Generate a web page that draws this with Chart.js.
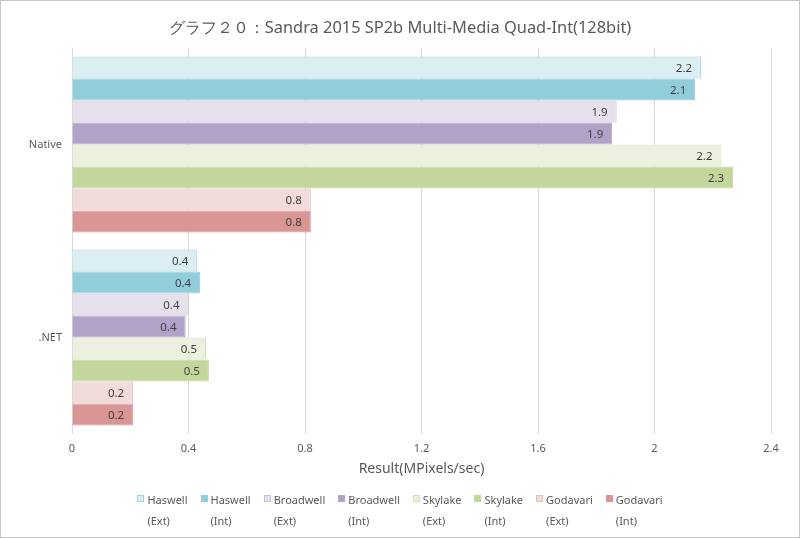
<!DOCTYPE html>
<html>
<head>
<meta charset="utf-8">
<script src="https://cdn.jsdelivr.net/npm/chart.js@4"></script>
<style>
  html, body { margin: 0; padding: 0; background: #fff; }
  #wrap { position: relative; width: 800px; height: 538px; }
  #frame { position: absolute; left: 0; top: 0; width: 800px; height: 538px; box-sizing: border-box; border: 1px solid #c8c8c8; pointer-events: none; }
  #legend { position: absolute; left: 0; top: 489px; width: 800px; display: flex; justify-content: center; gap: 13px; font-family: "Noto Sans", sans-serif; font-size: 11px; color: #595959; }
  .item { display: flex; align-items: flex-start; }
  .box { width: 7px; height: 7px; margin: 6px 3px 0 0; box-sizing: border-box; border: 1px solid; }
  .txt { line-height: 21px; }
</style>
</head>
<body>
<div id="wrap">
  <canvas id="barCanvas" width="800" height="538"></canvas>
  <div id="legend"></div>
  <div id="frame"></div>
</div>
<script>
const chartTitle = "グラフ２０：Sandra 2015 SP2b Multi-Media Quad-Int(128bit)";
const categories = ["Native", ".NET"];

const haswellExt = [2.16, 0.43];
const haswellInt = [2.14, 0.44];
const broadwellExt = [1.87, 0.40];
const broadwellInt = [1.855, 0.39];
const skylakeExt = [2.23, 0.46];
const skylakeInt = [2.27, 0.47];
const godavariExt = [0.82, 0.21];
const godavariInt = [0.82, 0.21];

const seriesNames = ["Haswell (Ext)", "Haswell (Int)", "Broadwell (Ext)", "Broadwell (Int)",
                     "Skylake (Ext)", "Skylake (Int)", "Godavari (Ext)", "Godavari (Int)"];
const seriesData = [haswellExt, haswellInt, broadwellExt, broadwellInt,
                    skylakeExt, skylakeInt, godavariExt, godavariInt];
const fills = ["#dbeef4", "#92cddc", "#e6e0ec", "#b3a2c7", "#ebf1de", "#c3d69b", "#f2dcdb", "#d99694"];
const borders = ["#a5d5e4", "#92cddc", "#cbbfda", "#b3a2c7", "#d5e2bb", "#c3d69b", "#e4c0bf", "#d99694"];

const textColor = "#595959";
const fontFamily = '"Noto Sans", sans-serif';

// value labels inside the bar ends, and the title centred on the whole canvas
const valueLabels = {
    id: "valueLabels",
    afterDatasetsDraw(chart) {
        const ctx = chart.ctx;
        ctx.save();
        ctx.font = "11.5px " + fontFamily;
        ctx.fillStyle = "#404040";
        ctx.textAlign = "right";
        ctx.textBaseline = "middle";
        chart.data.datasets.forEach((ds, i) => {
            chart.getDatasetMeta(i).data.forEach((bar, j) => {
                ctx.fillText(ds.data[j].toFixed(1), bar.x - 9, bar.y + 1);
            });
        });
        ctx.font = "16.4px " + fontFamily;
        ctx.fillStyle = textColor;
        ctx.textAlign = "center";
        ctx.fillText(chartTitle, chart.width / 2, 28);
        ctx.restore();
    }
};

const barCanvas = document.getElementById("barCanvas");

const barChart = new Chart(barCanvas, {
    type: "bar",
    data: {
        labels: categories,
        datasets: seriesNames.map((name, i) => ({
            label: name,
            data: seriesData[i],
            backgroundColor: fills[i],
            borderColor: borders[i],
            borderWidth: 1,
            borderSkipped: "start",
            categoryPercentage: 0.912,
            barPercentage: 1
        }))
    },
    options: {
        indexAxis: "y",
        responsive: false,
        animation: false,
        layout: { padding: { left: 0, right: 29, top: 48, bottom: 61 } },
        plugins: {
            legend: { display: false },
            tooltip: { enabled: false },
            title: { display: false }
        },
        scales: {
            x: {
                min: 0,
                max: 2.4,
                ticks: {
                    stepSize: 0.4,
                    padding: 8,
                    color: textColor,
                    font: { family: fontFamily, size: 11 },
                    callback: v => +v.toFixed(1)
                },
                grid: { color: "#d9d9d9", drawTicks: false },
                border: { display: false },
                title: {
                    display: true,
                    text: "Result(MPixels/sec)",
                    color: textColor,
                    font: { family: fontFamily, size: 14 },
                    padding: { top: -3, bottom: 0 }
                }
            },
            y: {
                ticks: {
                    padding: 10,
                    color: textColor,
                    font: { family: fontFamily, size: 11 }
                },
                grid: { display: false, drawTicks: false },
                border: { display: false },
                afterFit(scale) { scale.width = 72; }
            }
        }
    },
    plugins: [valueLabels]
});

// two-line legend below the chart
const legend = document.getElementById("legend");
seriesNames.forEach((name, i) => {
    const parts = name.split(" ");
    const item = document.createElement("div");
    item.className = "item";
    const box = document.createElement("div");
    box.className = "box";
    box.style.background = fills[i];
    box.style.borderColor = borders[i];
    const txt = document.createElement("div");
    txt.className = "txt";
    txt.innerHTML = parts[0] + "<br>" + parts[1];
    item.appendChild(box);
    item.appendChild(txt);
    legend.appendChild(item);
});
</script>
</body>
</html>
